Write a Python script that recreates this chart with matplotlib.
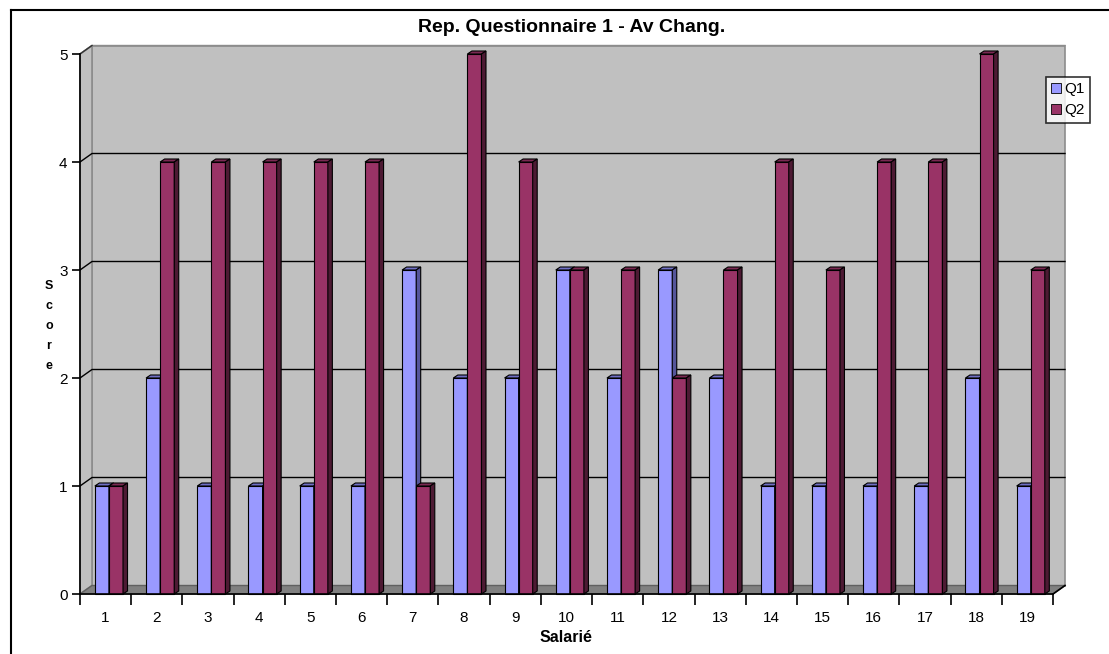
import numpy as np
import matplotlib.pyplot as plt
from matplotlib.patches import Polygon, Rectangle, Patch
from matplotlib.lines import Line2D

plt.rcParams['font.family'] = ['Liberation Sans', 'DejaVu Sans']

# data
salaries = [str(i) for i in range(1, 20)]
q1 = [1, 2, 1, 1, 1, 1, 3, 2, 2, 3, 2, 3, 2, 1, 1, 1, 1, 2, 1]
q2 = [1, 4, 4, 4, 4, 4, 1, 5, 4, 3, 3, 2, 3, 4, 3, 4, 4, 5, 3]
yticks = [0, 1, 2, 3, 4, 5]
series = ['Q1', 'Q2']

# colours (front, top, side)
c_q1 = ('#9999ff', '#6f6fc4', '#55559a')
c_q2 = ('#993366', '#7a2952', '#4d1a33')

W, H = 1109, 654
fig = plt.figure(figsize=(W / 100, H / 100), dpi=100)
ax = fig.add_axes([80 / W, 1 - 594 / H, 973 / W, 540 / H])
n = len(salaries)
ymax = yticks[-1]
ax.set_xlim(0, n)
ax.set_ylim(0, ymax)

# 3d offsets in data units
wdx, wdy = 12 / 51.2, 8.5 / 108
bdx, bdy = 4.5 / 51.2, 3 / 108

# walls and floor
ax.add_patch(Rectangle((wdx, wdy), n, ymax, facecolor='#c0c0c0',
                       edgecolor='#8c8c8c', lw=1.2, zorder=0, clip_on=False))
ax.add_patch(Polygon([(0, 0), (wdx, wdy), (wdx, ymax + wdy), (0, ymax)],
                     facecolor='#c0c0c0', edgecolor='#8c8c8c', lw=1.2,
                     zorder=0, clip_on=False))
ax.add_patch(Polygon([(0, 0), (n, 0), (n + wdx, wdy), (wdx, wdy)],
                     facecolor='#808080', edgecolor='#606060', lw=1,
                     zorder=0.5, clip_on=False))
for k in yticks[1:]:
    ax.plot([0, wdx, n + wdx], [k, k + wdy, k + wdy], color='k' if k < ymax else '#8c8c8c',
            lw=1, zorder=0.6, clip_on=False)
    if k == ymax:
        ax.plot([0, wdx], [k, k + wdy], color='#333333', lw=1, zorder=0.6, clip_on=False)
ax.plot([n, n + wdx], [0, wdy], color='k', lw=1.2, zorder=5, clip_on=False)


def bar3d(x0, w, h, cols):
    ax.add_patch(Rectangle((x0, 0), w, h, facecolor=cols[0], edgecolor='k',
                           lw=0.8, zorder=2, clip_on=False))
    ax.add_patch(Polygon([(x0, h), (x0 + bdx, h + bdy), (x0 + w + bdx, h + bdy), (x0 + w, h)],
                         facecolor=cols[1], edgecolor='k', lw=0.8, zorder=2, clip_on=False))
    ax.add_patch(Polygon([(x0 + w, 0), (x0 + w + bdx, bdy), (x0 + w + bdx, h + bdy), (x0 + w, h)],
                         facecolor=cols[2], edgecolor='k', lw=0.8, zorder=2, clip_on=False))


bw = 0.275
for i in range(n):
    bar3d(i + 0.29, bw, q1[i], c_q1)
    bar3d(i + 0.29 + bw, bw, q2[i], c_q2)

# axes
for s in ['top', 'right']:
    ax.spines[s].set_visible(False)
for s in ['left', 'bottom']:
    ax.spines[s].set_color('k')
    ax.spines[s].set_linewidth(1.2)
    ax.spines[s].set_zorder(5)
ax.set_facecolor('none')
ax.set_yticks(yticks)
ax.tick_params(axis='y', length=6, width=1.2, labelsize=11, pad=3)
ax.set_xticks(np.arange(n + 1))
ax.set_xticklabels([])
ax.tick_params(axis='x', which='major', length=8, width=1.2)
ax.set_xticks(np.arange(n) + 0.5, minor=True)
ax.set_xticklabels(salaries, minor=True, fontsize=11)
ax.tick_params(axis='x', which='minor', length=0, pad=12)

# texts
fig.text(572 / W, 1 - 28 / H, 'Rep. Questionnaire 1 - Av Chang.', ha='center',
         va='center', fontsize=14, fontweight='bold')
fig.text(49 / W, 1 - 326 / H, 'S\nc\no\nr\ne', ha='center', va='center',
         fontsize=9, fontweight='bold', linespacing=1.9)
fig.text(566 / W, 1 - 638 / H, 'Salarié', ha='center', va='center',
         fontsize=11.5, fontweight='bold')

# legend
handles = [Patch(facecolor=c_q1[0], edgecolor='k', lw=0.6, label=series[0]),
           Patch(facecolor=c_q2[0], edgecolor='k', lw=0.6, label=series[1])]
leg = fig.legend(handles=handles, loc='upper left', bbox_to_anchor=(1046 / W, 1 - 77 / H),
                 fontsize=11, frameon=True, fancybox=False, handlelength=0.65,
                 handleheight=0.65, handletextpad=0.2, borderpad=0.35, labelspacing=0.45,
                 borderaxespad=0)
leg.get_frame().set_edgecolor('k')
leg.get_frame().set_linewidth(1.2)

# outer frame
fig.add_artist(Line2D([11 / W, 1], [1 - 10 / H] * 2, color='k', lw=1.5))
fig.add_artist(Line2D([11 / W] * 2, [0, 1 - 10 / H], color='k', lw=1.5))

fig.savefig('out.png', dpi=100)
